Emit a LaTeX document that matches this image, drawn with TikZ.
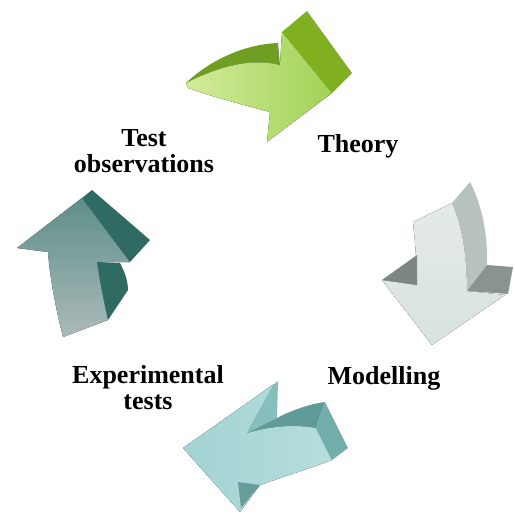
\documentclass[tikz,border=0pt]{standalone}
\usepackage{fontspec}
\setmainfont{Liberation Serif}
\definecolor{theoryLight}{HTML}{D3EB9A}
\definecolor{theoryMid}{HTML}{A0D257}
\definecolor{theoryTop}{HTML}{6E9E22}
\definecolor{theorySide}{HTML}{80AF1F}
\definecolor{modelLight}{HTML}{E4EAE8}
\definecolor{modelLow}{HTML}{D8E2E0}
\definecolor{modelSide}{HTML}{B7C2C0}
\definecolor{modelBarb}{HTML}{7C8785}
\definecolor{expLight}{HTML}{A3D3D3}
\definecolor{expLow}{HTML}{B6DDDC}
\definecolor{expStrip}{HTML}{86BDBD}
\definecolor{expTop}{HTML}{5E9B99}
\definecolor{expEnd}{HTML}{72AEAC}
\definecolor{obsTop}{HTML}{5E8E8A}
\definecolor{obsLow}{HTML}{ABBAB9}
\definecolor{obsDark}{HTML}{2F6A63}
\begin{document}
\begin{tikzpicture}[
        x=0.5pt, y=-0.5pt,
        face/.style={draw=none},
        label/.style={font=\fontsize{13}{13}\selectfont\bfseries, align=center, inner sep=0pt}
    ]
        \useasboundingbox (0,0) rectangle (515,515);

        % Theory arrow (green, top)
        \fill[face, left color=theoryLight, right color=theoryMid]
            (186,83) .. controls (215,68) and (250,57) .. (280,65) -- (282,32) -- (332,93)
            -- (267,142) -- (270,112) .. controls (240,104) and (210,96) .. (188,88) -- cycle;
        \fill[face, fill=theoryTop]
            (186,83) .. controls (212,58) and (248,44) .. (278,43) -- (280,65)
            .. controls (250,57) and (215,68) .. (186,83) -- cycle;
        \fill[face, fill=theorySide]
            (282,32) -- (307,11) -- (352,73) -- (332,93) -- cycle;

        % Modelling arrow (grey, right)
        \fill[face, top color=modelLight, bottom color=modelLow]
            (413,222) -- (452,203) .. controls (462,225) and (467,255) .. (467,291)
            -- (505,295) -- (432,345) -- (382,280) -- (417,285) .. controls (417,265) and (415,240) .. (413,222) -- cycle;
        \fill[face, fill=modelSide]
            (452,203) -- (470,182) .. controls (482,205) and (488,235) .. (487,265)
            -- (467,291) .. controls (467,255) and (462,225) .. (452,203) -- cycle;
        \fill[face, fill=modelBarb]
            (382,280) -- (417,255) -- (417,285) -- cycle;
        \fill[face, fill=modelBarb!90!white]
            (467,291) -- (487,265) -- (513,267) -- (508,294) -- cycle;

        % Experimental tests arrow (teal, bottom)
        \fill[face, left color=expLight, right color=expLow]
            (183,448) -- (274,384) -- (247,433) .. controls (270,426) and (295,424) .. (316,428)
            -- (332,460) .. controls (305,470) and (280,478) .. (260,485) -- (240,512) -- cycle;
        \fill[face, fill=expStrip]
            (274,384) -- (278,381) -- (277,418) -- (247,433) -- cycle;
        \fill[face, fill=expTop]
            (247,433) -- (277,418) .. controls (292,410) and (310,404) .. (325,402)
            -- (316,428) .. controls (295,424) and (270,426) .. (247,433) -- cycle;
        \fill[face, fill=expEnd]
            (325,402) -- (348,448) -- (332,460) -- (316,428) -- cycle;
        \fill[face, fill=expEnd!90!black]
            (238,482) -- (260,485) -- (241,508) -- cycle;

        % Test observations arrow (dark teal, left)
        \fill[face, top color=obsTop, bottom color=obsLow]
            (17,248) -- (82,198) -- (130,262) -- (97,262) .. controls (100,282) and (104,302) .. (108,320)
            -- (63,337) .. controls (55,305) and (50,278) .. (48,252) -- cycle;
        \fill[face, fill=obsDark]
            (97,262) -- (120,263) .. controls (125,272) and (128,282) .. (128,290)
            -- (108,320) .. controls (104,302) and (100,282) .. (97,262) -- cycle;
        \fill[face, fill=obsDark]
            (82,198) -- (92,190) -- (150,240) -- (130,262) -- cycle;

        % Labels
        \node[label] (obs) at (144,151) {Test\\observations};
        \node[label] (theory) at (358,146) {Theory};
        \node[label] (model) at (384,378) {Modelling};
        \node[label] (exp) at (148,388) {Experimental\\tests};
    \end{tikzpicture}
\end{document}
